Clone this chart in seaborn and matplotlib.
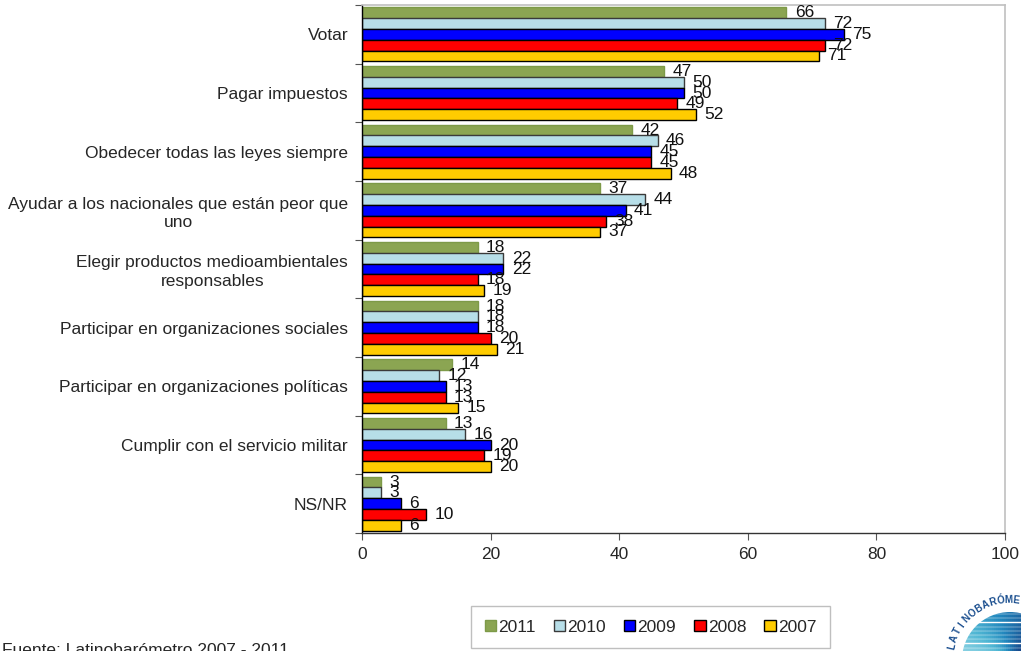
import numpy as np
import pandas as pd
import matplotlib
matplotlib.use("Agg")
import matplotlib.pyplot as plt
import seaborn as sns
from matplotlib.patches import Circle, Patch, Polygon
from matplotlib.collections import LineCollection
from matplotlib.colors import LinearSegmentedColormap

# Survey items (percent of respondents), one list per survey year
categories = [
    "Votar",
    "Pagar impuestos",
    "Obedecer todas las leyes siempre",
    "Ayudar a los nacionales que están peor que\nuno",
    "Elegir productos medioambientales\nresponsables",
    "Participar en organizaciones sociales",
    "Participar en organizaciones políticas",
    "Cumplir con el servicio militar",
    "NS/NR",
]
years = ["2011", "2010", "2009", "2008", "2007"]
v2011 = [66, 47, 42, 37, 18, 18, 14, 13, 3]
v2010 = [72, 50, 46, 44, 22, 18, 12, 16, 3]
v2009 = [75, 50, 45, 41, 22, 18, 13, 20, 6]
v2008 = [72, 49, 45, 38, 18, 20, 13, 19, 10]
v2007 = [71, 52, 48, 37, 19, 21, 15, 20, 6]
xticks = [0, 20, 40, 60, 80, 100]
source_text = "Fuente: Latinobarómetro 2007 - 2011"
emblem_word = "LATINOBARÓMETRO"

series = dict(zip(years, [v2011, v2010, v2009, v2008, v2007]))
df = pd.DataFrame(
    [(c, y, v) for y in years for c, v in zip(categories, series[y])],
    columns=["categoria", "anio", "valor"],
)

fills = {"2011": "#8ba552", "2010": "#b7dee8", "2009": "#0000ff",
         "2008": "#ff0000", "2007": "#ffcc00"}
edges = {"2011": "#7d9a48", "2010": "#3a3a3a", "2009": "#000000",
         "2008": "#000000", "2007": "#000000"}

FS = 12.5
sns.set_style("white")
plt.rcParams["font.family"] = ["Liberation Sans", "DejaVu Sans"]

fig = plt.figure(figsize=(10.21, 6.51), dpi=100)
ax = fig.add_axes([362 / 1021, 1 - 533 / 651, (1005 - 362) / 1021, (533 - 5) / 651])

sns.barplot(data=df, y="categoria", x="valor", hue="anio", hue_order=years,
            order=categories, palette=fills, orient="h", width=0.92,
            saturation=1, ax=ax, legend=False, errorbar=None)

for cont, yr in zip(ax.containers, years):
    for bar in cont:
        bar.set_edgecolor(edges[yr])
        bar.set_linewidth(1.0)
    ax.bar_label(cont, labels=[str(v) for v in series[yr]], padding=6,
                 fontsize=FS, color="#111111")

ax.set_xlim(0, 100)
ax.set_ylim(len(categories) - 0.5, -0.5)
ax.set_xticks(xticks)
ax.set_xticklabels([str(t) for t in xticks], fontsize=FS)
ax.set_xlabel("")
ax.set_ylabel("")
ax.tick_params(axis="x", direction="out", length=5, width=0.8, color="#555555",
               pad=5, bottom=True)
ax.set_yticks(range(len(categories)))
ax.set_yticklabels(categories, fontsize=FS, multialignment="center", linespacing=1.3)
ax.tick_params(axis="y", which="major", length=0, pad=10)
ax.set_yticks(np.arange(-0.5, len(categories), 1.0), minor=True)
ax.tick_params(axis="y", which="minor", direction="out", length=5, width=0.8,
               color="#555555", left=True)

ax.spines["left"].set_color("#000000")
ax.spines["left"].set_linewidth(1.0)
ax.spines["bottom"].set_color("#333333")
ax.spines["bottom"].set_linewidth(1.0)
for s in ("top", "right"):
    ax.spines[s].set_color("#c0c0c0")
    ax.spines[s].set_linewidth(1.2)
ax.grid(False)

handles = [Patch(facecolor=fills[y], edgecolor=edges[y], linewidth=1.0) for y in years]
leg = fig.legend(handles, years, loc="center", bbox_to_anchor=(650.5 / 1021, 1 - 627 / 651),
                 ncol=5, fontsize=FS, frameon=True, fancybox=False,
                 handlelength=0.65, handleheight=0.65, handletextpad=0.12,
                 columnspacing=1.05, borderpad=0.8, borderaxespad=0)
leg.get_frame().set_edgecolor("#b0b0b0")
leg.get_frame().set_linewidth(1.0)

fig.text(2 / 1021, 1 - 643 / 651, source_text, fontsize=FS, ha="left", va="top")

# Institutional emblem in the bottom-right corner: striped globe with curved lettering
lax = fig.add_axes([0, 0, 1, 1], zorder=-1)
lax.set_xlim(0, 1021)
lax.set_ylim(651, 0)
lax.axis("off")
cx, cy, r = 1010, 660, 48
clip = Circle((cx, cy), r, transform=lax.transData)
stripe_cmap = LinearSegmentedColormap.from_list(
    "stripes", ["#9fdbe8", "#4fb6d3", "#2287bd", "#1b5b9a", "#15367a"])
segs, cols = [], []
for yy in np.arange(cy - r, cy + r, 4.2):
    xs = np.arange(cx - r, cx + r, 2.0)
    for x0 in xs:
        segs.append([(x0, yy), (x0 + 2.0, yy)])
        ang = np.degrees(np.arctan2(cy - yy, x0 - cx))
        cols.append(stripe_cmap(np.clip((180 - ang) / 150, 0, 1)))
lc = LineCollection(segs, colors=cols, linewidths=2.6, capstyle="butt")
lax.add_collection(lc)
lc.set_clip_path(clip)
land = Polygon([(985, 628), (997, 616), (1012, 618), (1021, 626), (1021, 651),
                (1005, 651), (996, 640)], closed=True, facecolor="white",
               edgecolor="none")
lax.add_patch(land)
step = 7.5
for i, ch in enumerate(emblem_word):
    a = 166.5 - i * step
    t = np.deg2rad(a)
    lax.text(cx + 60 * np.cos(t), cy - 60 * np.sin(t), ch,
             rotation=a - 90, ha="center", va="center", fontsize=7,
             color="#1b4f8f", fontweight="bold", rotation_mode="anchor")

fig.savefig("out.png", dpi=100, facecolor="white")
